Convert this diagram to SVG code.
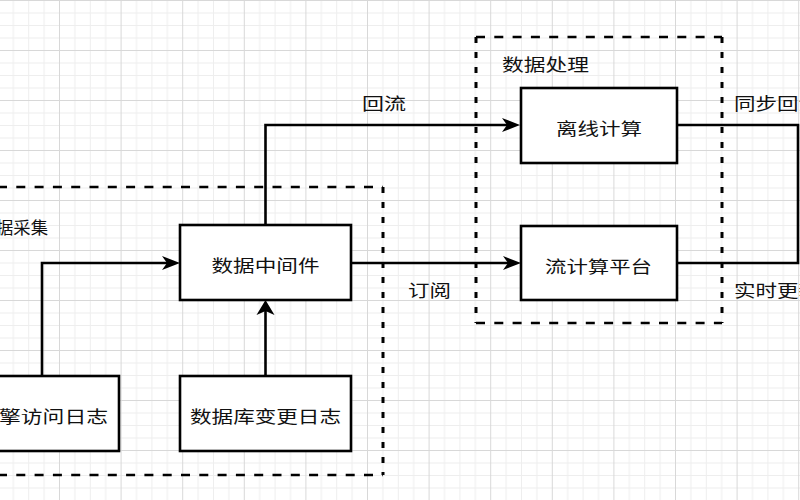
<svg xmlns="http://www.w3.org/2000/svg" width="800" height="500" viewBox="0 0 800 500">
  <style>
    .node rect { fill: #ffffff; stroke: #000000; stroke-width: 2.6; }
    .lbl { font-family: "Noto Sans CJK SC", "Noto Sans", sans-serif; font-size: 17px; fill: #111111; dominant-baseline: central; }
    .mid { text-anchor: middle; }
    .start { text-anchor: start; }
    .edge { fill: none; stroke: #000000; stroke-width: 2.6; }
    .dh { fill: none; stroke: #000000; stroke-width: 2.5; stroke-dasharray: 9 9.3; }
    .dv { fill: none; stroke: #000000; stroke-width: 3; stroke-dasharray: 6 9; }
  </style>
  <defs>
    <pattern id="grid" patternUnits="userSpaceOnUse" x="-2.6" y="0" width="61.6" height="50">
      <path d="M15.9,0 V50 M31.3,0 V50 M46.7,0 V50 M0,13 H61.6 M0,25.5 H61.6 M0,38 H61.6" stroke="#eeeeee" stroke-width="1" fill="none"/>
      <path d="M0.5,0 V50 M0,0.5 H61.6" stroke="#d8d8d8" stroke-width="1" fill="none"/>
    </pattern>
    <marker id="ah" markerUnits="userSpaceOnUse" markerWidth="20" markerHeight="16" refX="12" refY="7.5" orient="auto" overflow="visible">
      <path d="M0,0.5 L18,7.5 L0,14.5 L5,7.5 Z" fill="#000000"/>
    </marker>
    <marker id="av" markerUnits="userSpaceOnUse" markerWidth="16" markerHeight="20" refX="9" refY="9" orient="auto" overflow="visible">
      <path d="M0,0 L15,9 L0,18 L4,9 Z" fill="#000000"/>
    </marker>
  </defs>

  <rect x="0" y="0" width="800" height="500" fill="#ffffff"/>
  <rect x="0" y="0" width="800" height="500" fill="url(#grid)"/>

  <g id="group-collect">
    <path class="dh" d="M-2,187 H383"/>
    <path class="dv" d="M383,187 V475"/>
    <path class="dh" d="M-2,475 H383"/>
    <text class="lbl start" x="-4" y="226" textLength="52" lengthAdjust="spacingAndGlyphs">据采集</text>
  </g>

  <g id="group-process">
    <path class="dh" d="M476,37 H722"/>
    <path class="dv" d="M722,37 V323"/>
    <path class="dh" d="M476,323 H722"/>
    <path class="dv" d="M476,37 V323"/>
    <text class="lbl start" x="502" y="63" textLength="87" lengthAdjust="spacingAndGlyphs">数据处理</text>
  </g>

  <g id="connectors">
    <path class="edge" d="M42,376 V263 H174" marker-end="url(#ah)"/>
    <path class="edge" d="M265.5,376 V306" marker-end="url(#av)"/>
    <path class="edge" d="M265.5,225 V125 H514" marker-end="url(#ah)"/>
    <path class="edge" d="M351,263 H515" marker-end="url(#ah)"/>
    <path class="edge" d="M677,125 H798 V194"/>
    <path class="edge" d="M677,263 H798 V194"/>
    <text class="lbl mid" x="384" y="102.5" textLength="44" lengthAdjust="spacingAndGlyphs">回流</text>
    <text class="lbl start" x="408" y="289" textLength="43" lengthAdjust="spacingAndGlyphs">订阅</text>
    <text class="lbl start" x="734" y="102.5" textLength="86" lengthAdjust="spacingAndGlyphs">同步回流</text>
    <text class="lbl start" x="734" y="289.5" textLength="86" lengthAdjust="spacingAndGlyphs">实时更新</text>
  </g>

  <g id="node-engine-log" class="node">
    <rect x="-35" y="376" width="154" height="75"/>
    <text class="lbl start" x="-1" y="415" textLength="109" lengthAdjust="spacingAndGlyphs">擎访问日志</text>
  </g>

  <g id="node-middleware" class="node">
    <rect x="180" y="225" width="171" height="75"/>
    <text class="lbl mid" x="265.5" y="264.5" textLength="108" lengthAdjust="spacingAndGlyphs">数据中间件</text>
  </g>

  <g id="node-db-log" class="node">
    <rect x="180" y="376" width="171" height="75"/>
    <text class="lbl mid" x="265.5" y="415.5" textLength="151" lengthAdjust="spacingAndGlyphs">数据库变更日志</text>
  </g>

  <g id="node-offline" class="node">
    <rect x="521" y="88" width="156" height="75"/>
    <text class="lbl mid" x="599" y="127.5" textLength="86" lengthAdjust="spacingAndGlyphs">离线计算</text>
  </g>

  <g id="node-stream" class="node">
    <rect x="521" y="226" width="156" height="74"/>
    <text class="lbl mid" x="598.5" y="265.5" textLength="107" lengthAdjust="spacingAndGlyphs">流计算平台</text>
  </g>
</svg>
